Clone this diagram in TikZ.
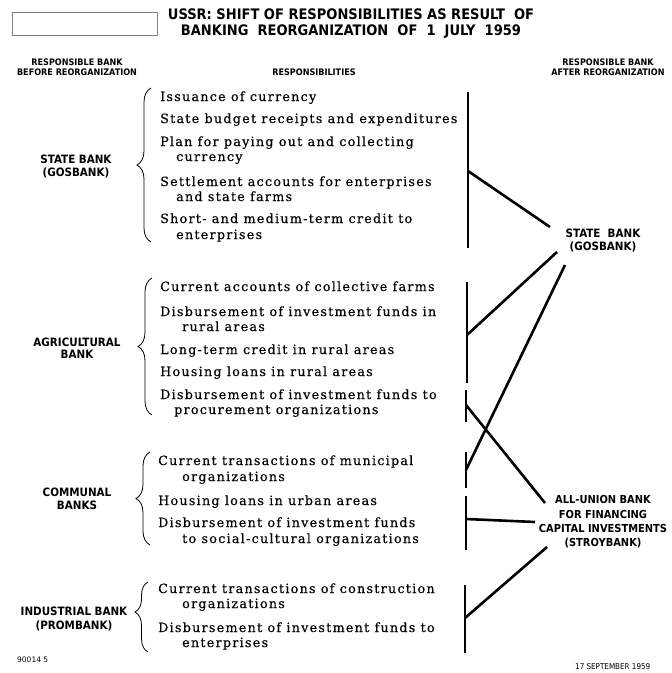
\documentclass[tikz,border=0pt]{standalone}
\usepackage{fontspec}
\usetikzlibrary{decorations.pathreplacing}
\newfontfamily\bodyfont{DejaVu Serif}[LetterSpace=10,FakeBold=0.4]
\newfontfamily\labfont{DejaVu Sans Condensed}
\newfontfamily\footfont{DejaVu Sans}
\begin{document}
\begin{tikzpicture}[x=1pt,y=-1pt,
  txt/.style={anchor=base west, inner sep=0pt, font=\bodyfont\fontsize{12.7}{15}\selectfont},
  lab/.style={align=center, inner sep=0pt, font=\labfont\bfseries\fontsize{11.5}{13}\selectfont},
  hdr/.style={align=center, inner sep=0pt, font=\labfont\bfseries\fontsize{9}{10.5}\selectfont},
  ttl/.style={align=center, inner sep=0pt, font=\labfont\bfseries\fontsize{14.5}{16}\selectfont},
  foot/.style={anchor=west, inner sep=0pt, font=\footfont\fontsize{7.5}{8}\selectfont},
  bar/.style={line width=2.6pt},
  link/.style={line width=2.6pt},
  brc/.style={decorate, decoration={brace, amplitude=14pt}, line width=0.8pt}]
\useasboundingbox (0,0) rectangle (672,673);
\clip (0,0) rectangle (672,673);

% title
\node[draw=gray, line width=0.8pt, minimum width=145pt, minimum height=23pt, inner sep=0pt] (box) at (84.5,23.5) {};
\node[ttl] (title) at (351,24) {USSR: SHIFT OF RESPONSIBILITIES AS RESULT\ \ OF\\BANKING\ \ REORGANIZATION\ \ OF\ \ 1\ \ JULY\ \ 1959};

% headers
\node[hdr] (hbefore) at (77,67) {RESPONSIBLE BANK\\BEFORE REORGANIZATION};
\node[hdr] (hresp) at (314,72) {RESPONSIBILITIES};
\node[hdr] (hafter) at (608,67) {RESPONSIBLE BANK\\AFTER REORGANIZATION};

% left labels
\node[lab] (lstate) at (76,166) {STATE BANK\\(GOSBANK)};
\node[lab, font=\labfont\bfseries\fontsize{11.5}{12}\selectfont] (lagri) at (77,348) {AGRICULTURAL\\BANK};
\node[lab] (lcomm) at (77,499) {COMMUNAL\\BANKS};
\node[lab, font=\labfont\bfseries\fontsize{11.5}{14.5}\selectfont] (lind) at (74,619) {INDUSTRIAL BANK\\(PROMBANK)};

% right labels
\node[lab] (rstate) at (603,240) {STATE\ \ BANK\\(GOSBANK)};
\node[lab, font=\labfont\bfseries\fontsize{11}{14.3}\selectfont] (rstroy) at (603,522) {ALL-UNION BANK\\FOR FINANCING\\CAPITAL INVESTMENTS\\(STROYBANK)};

% braces
\draw[brc] (151,242) -- (151,88);
\draw[brc] (152,415) -- (152,278);
\draw[brc] (150,545) -- (150,452);
\draw[brc, decoration={brace, amplitude=13pt, aspect=0.57}] (148,652) -- (148,582);

% state bank responsibilities
\node[txt] (s1) at (160,101) {Issuance of currency};
\node[txt] (s2) at (160,123) {State budget receipts and expenditures};
\node[txt] (s3) at (160,146) {Plan for paying out and collecting};
\node[txt] (s3b) at (176,161) {currency};
\node[txt] (s4) at (160,186) {Settlement accounts for enterprises};
\node[txt] (s4b) at (176,201) {and state farms};
\node[txt] (s5) at (160,223) {Short- and medium-term credit to};
\node[txt] (s5b) at (176,239) {enterprises};

% agricultural bank responsibilities
\node[txt] (a1) at (160,291) {Current accounts of collective farms};
\node[txt] (a2) at (160,316) {Disbursement of investment funds in};
\node[txt] (a2b) at (182,331) {rural areas};
\node[txt] (a3) at (160,354) {Long-term credit in rural areas};
\node[txt] (a4) at (160,376) {Housing loans in rural areas};
\node[txt] (a5) at (160,399) {Disbursement of investment funds to};
\node[txt] (a5b) at (174,414) {procurement organizations};

% communal banks responsibilities
\node[txt] (c1) at (158,465) {Current transactions of municipal};
\node[txt] (c1b) at (182,481) {organizations};
\node[txt] (c2) at (158,505) {Housing loans in urban areas};
\node[txt] (c3) at (158,527) {Disbursement of investment funds};
\node[txt] (c3b) at (182,543) {to social-cultural organizations};

% industrial bank responsibilities
\node[txt] (i1) at (158,593) {Current transactions of construction};
\node[txt] (i1b) at (182,608) {organizations};
\node[txt] (i2) at (158,632) {Disbursement of investment funds to};
\node[txt] (i2b) at (182,647) {enterprises};

% bars
\coordinate (bs1) at (468,92);  \coordinate (bs2) at (468,248);
\coordinate (ba1) at (467,282); \coordinate (ba2) at (467,383);
\coordinate (bb1) at (466,390); \coordinate (bb2) at (466,422);
\coordinate (bc1) at (466,452); \coordinate (bc2) at (466,488);
\coordinate (bd1) at (466,496); \coordinate (bd2) at (466,550);
\coordinate (be1) at (465,585); \coordinate (be2) at (465,653);
\draw[bar] (bs1) -- (bs2);
\draw[bar] (ba1) -- (ba2);
\draw[bar] (bb1) -- (bb2);
\draw[bar] (bc1) -- (bc2);
\draw[bar] (bd1) -- (bd2);
\draw[bar] (be1) -- (be2);

% link endpoints
\coordinate (ls) at (468,171);  \coordinate (gs1) at (550,227);
\coordinate (la) at (467,335);  \coordinate (gs2) at (557,252);
\coordinate (lc) at (466,470);  \coordinate (gs3) at (565,265);
\coordinate (lb) at (466,405);  \coordinate (st1) at (545,503);
\coordinate (ld) at (466,519);  \coordinate (st2) at (535,522);
\coordinate (le) at (465,618);  \coordinate (st3) at (547,547);
\draw[link] (ls) -- (gs1);
\draw[link] (la) -- (gs2);
\draw[link] (lc) -- (gs3);
\draw[link] (lb) -- (st1);
\draw[link] (ld) -- (st2);
\draw[link] (le) -- (st3);

% footer
\node[foot] (fl) at (17,660) {90014 5};
\node[foot, font=\labfont\fontsize{8}{9}\selectfont] (fr) at (575,667) {17 SEPTEMBER 1959};
\end{tikzpicture}
\end{document}
